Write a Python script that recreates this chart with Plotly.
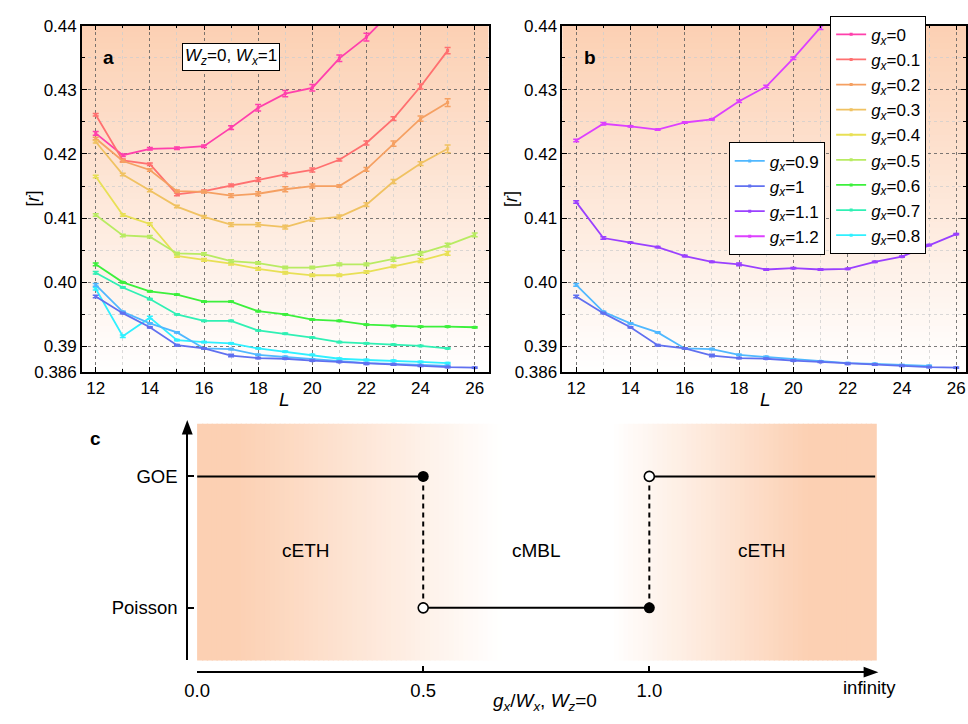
import plotly.graph_objects as go

W, H = 968, 724

# ---------------- data ----------------
L_all = list(range(12, 27))

g_labels_a = ["0", "0.1", "0.2", "0.3", "0.4", "0.5", "0.6", "0.7", "0.8"]
g_labels_b = ["0.9", "1", "1.1", "1.2"]

r_g00 = [0.4232, 0.4198, 0.4208, 0.4209, 0.4212, 0.4241, 0.4272, 0.4294, 0.4303, 0.4349, 0.4382, 0.4425]
r_g01 = [0.4261, 0.4190, 0.4184, 0.4137, 0.4142, 0.4151, 0.4160, 0.4168, 0.4175, 0.4191, 0.4217, 0.4255, 0.4305, 0.4361]
r_g02 = [0.4224, 0.4189, 0.4175, 0.4142, 0.4141, 0.4135, 0.4138, 0.4145, 0.4150, 0.4150, 0.4176, 0.4216, 0.4255, 0.4280]
r_g03 = [0.4219, 0.4168, 0.4143, 0.4118, 0.4102, 0.4090, 0.4090, 0.4086, 0.4098, 0.4102, 0.4121, 0.4157, 0.4185, 0.4208]
r_g04 = [0.4165, 0.4105, 0.4091, 0.4041, 0.4035, 0.4029, 0.4021, 0.4015, 0.4011, 0.4011, 0.4016, 0.4025, 0.4034, 0.4045]
r_g05 = [0.4105, 0.4073, 0.4071, 0.4045, 0.4044, 0.4033, 0.4030, 0.4023, 0.4023, 0.4028, 0.4028, 0.4036, 0.4045, 0.4058, 0.4074]
r_g06 = [0.4028, 0.4000, 0.3986, 0.3981, 0.3970, 0.3970, 0.3955, 0.3950, 0.3942, 0.3940, 0.3934, 0.3932, 0.3931, 0.3931, 0.3930]
r_g07 = [0.4015, 0.3992, 0.3974, 0.3950, 0.3940, 0.3940, 0.3925, 0.3920, 0.3914, 0.3907, 0.3905, 0.3903, 0.3901, 0.3897]
r_g08 = [0.3990, 0.3916, 0.3945, 0.3910, 0.3907, 0.3905, 0.3897, 0.3892, 0.3887, 0.3881, 0.3879, 0.3878, 0.3876, 0.3874]
r_g09 = [0.3996, 0.3954, 0.3936, 0.3922, 0.3897, 0.3896, 0.3887, 0.3884, 0.3880, 0.3877, 0.3874, 0.3873, 0.3871, 0.3870]
r_g10 = [0.3978, 0.3952, 0.3930, 0.3902, 0.3897, 0.3886, 0.3882, 0.3881, 0.3878, 0.3876, 0.3873, 0.3872, 0.3870, 0.3868, 0.3867]
r_g11 = [0.4125, 0.4069, 0.4062, 0.4055, 0.4041, 0.4032, 0.4028, 0.4020, 0.4022, 0.4020, 0.4021, 0.4032, 0.4040, 0.4058, 0.4075]
r_g12 = [0.4221, 0.4247, 0.4243, 0.4238, 0.4249, 0.4254, 0.4282, 0.4305, 0.4349, 0.4397, 0.4445]

e_g00 = [0.0003, 0.0002, 0.0002, 0.0002, 0.0002, 0.0003, 0.0005, 0.0005, 0.0005, 0.0005, 0.0006, 0.0006]
e_g01 = [0.0002, 0.0002, 0.0002, 0.0002, 0.0002, 0.0002, 0.0003, 0.0003, 0.0003, 0.0002, 0.0003, 0.0003, 0.0004, 0.0005]
e_g02 = [0.0002, 0.0002, 0.0002, 0.0002, 0.0002, 0.0003, 0.0003, 0.0004, 0.0003, 0.0002, 0.0003, 0.0004, 0.0004, 0.0006]
e_g03 = [0.0002, 0.0002, 0.0002, 0.0002, 0.0002, 0.0003, 0.0003, 0.0003, 0.0003, 0.0003, 0.0003, 0.0003, 0.0003, 0.0006]
e_g04 = [0.0002, 0.0002, 0.0002, 0.0002, 0.0002, 0.0002, 0.0002, 0.0002, 0.0002, 0.0002, 0.0002, 0.0002, 0.0003, 0.0003]
e_g05 = [0.0002, 0.0002, 0.0002, 0.0002, 0.0002, 0.0002, 0.0002, 0.0002, 0.0002, 0.0002, 0.0002, 0.0003, 0.0003, 0.0003, 0.0003]
e_g06 = [0.0002, 0.0001, 0.0001, 0.0001, 0.0001, 0.0001, 0.0001, 0.0001, 0.0001, 0.0001, 0.0001, 0.0001, 0.0001, 0.0001, 0.0001]
e_g07 = [0.0002, 0.0001, 0.0001, 0.0001, 0.0001, 0.0001, 0.0001, 0.0001, 0.0001, 0.0001, 0.0001, 0.0001, 0.0001, 0.0001]
e_g08 = [0.0002, 0.0002, 0.0002, 0.0001, 0.0001, 0.0001, 0.0001, 0.0001, 0.0001, 0.0001, 0.0001, 0.0001, 0.0001, 0.0001]
e_g09 = [0.0002, 0.0001, 0.0001, 0.0001, 0.0001, 0.0001, 0.0001, 0.0001, 0.0001, 0.0001, 0.0001, 0.0001, 0.0001, 0.0001]
e_g10 = [0.0002, 0.0001, 0.0001, 0.0001, 0.0001, 0.0002, 0.0001, 0.0001, 0.0001, 0.0001, 0.0001, 0.0001, 0.0001, 0.0001, 0.0001]
e_g11 = [0.0002, 0.0002, 0.0001, 0.0001, 0.0001, 0.0001, 0.0002, 0.0001, 0.0001, 0.0001, 0.0001, 0.0001, 0.0001, 0.0001, 0.0001]
e_g12 = [0.0002, 0.0002, 0.0001, 0.0001, 0.0001, 0.0001, 0.0002, 0.0002, 0.0002, 0.0003, 0.0003]

series_a = [r_g00, r_g01, r_g02, r_g03, r_g04, r_g05, r_g06, r_g07, r_g08]
errors_a = [e_g00, e_g01, e_g02, e_g03, e_g04, e_g05, e_g06, e_g07, e_g08]
series_b = [r_g09, r_g10, r_g11, r_g12]
errors_b = [e_g09, e_g10, e_g11, e_g12]

colors_a = ["#FF40AC", "#FF7070", "#F5A062", "#F0C262", "#E8E055", "#B8EB62", "#3CF03C", "#30F0B4", "#30F0FF"]
colors_b = ["#50B8FF", "#6070F0", "#9A40FF", "#DD40FF"]

y_ticks = [0.386, 0.39, 0.40, 0.41, 0.42, 0.43, 0.44]
y_ticktext = ["0.386", "0.39", "0.40", "0.41", "0.42", "0.43", "0.44"]
y_minor = [0.395, 0.405, 0.415, 0.425, 0.435]
x_ticks = [12, 14, 16, 18, 20, 22, 24, 26]
x_minor = [13, 15, 17, 19, 21, 23, 25]

# panel c
c_xticks = [0.0, 0.5, 1.0]
c_xticktext = ["0.0", "0.5", "1.0"]
c_levels = [0, 1]
c_leveltext = ["Poisson", "GOE"]
c_goe_left_x = [0.0, 0.5]
c_poisson_x = [0.5, 1.0]
c_goe_right_x = [1.0, 1.5]
c_phase_x = [0.24, 0.75, 1.25]
c_phase_names = ["cETH", "cMBL", "cETH"]
c_filled_x = [0.5, 1.0]
c_filled_y = [1, 0]
c_open_x = [0.5, 1.0]
c_open_y = [0, 1]

# ---------------- helpers ----------------
def px(x):
    return x / W


def py(y):
    return 1 - y / H


FONT = "Liberation Sans, Arial, sans-serif"
ORANGE = (252, 208, 179)


def mix(t):
    r = round(255 + (ORANGE[0] - 255) * t)
    g = round(255 + (ORANGE[1] - 255) * t)
    b = round(255 + (ORANGE[2] - 255) * t)
    return f"rgb({r},{g},{b})"


def gx(lbl):
    return f"<i>g</i><sub><i>x</i></sub>={lbl}"


fig = go.Figure()


def add_series(lbl, ys, es, col, xa, ya, legend=None, show=True):
    fig.add_trace(go.Scatter(
        x=L_all[:len(ys)], y=ys, mode="lines+markers", name=gx(lbl), showlegend=show,
        line=dict(color=col, width=1.8), marker=dict(symbol="square", size=3, color=col),
        error_y=dict(type="data", array=es, color=col, thickness=1.5, width=3),
        xaxis=xa, yaxis=ya, legend=legend or "legend"))


# panel a traces
for lbl, ys, es, col in zip(g_labels_a, series_a, errors_a, colors_a):
    add_series(lbl, ys, es, col, "x", "y", "legend")
for lbl, ys, es, col in zip(g_labels_b[:2], series_b[:2], errors_b[:2], colors_b[:2]):
    add_series(lbl, ys, es, col, "x", "y", show=False)
# panel b traces
for lbl, ys, es, col in zip(g_labels_b, series_b, errors_b, colors_b):
    add_series(lbl, ys, es, col, "x2", "y2", "legend2")

# panel c traces
for xs in (c_goe_left_x, c_goe_right_x):
    fig.add_trace(go.Scatter(x=xs, y=[c_levels[1]] * 2, mode="lines", showlegend=False,
                             line=dict(color="black", width=2), xaxis="x3", yaxis="y3"))
fig.add_trace(go.Scatter(x=c_poisson_x, y=[c_levels[0]] * 2, mode="lines", showlegend=False,
                         line=dict(color="black", width=2), xaxis="x3", yaxis="y3"))
for xv in c_filled_x:
    fig.add_trace(go.Scatter(x=[xv, xv], y=[c_levels[1], c_levels[0]], mode="lines", showlegend=False,
                             line=dict(color="black", width=2, dash="5px,4px"), xaxis="x3", yaxis="y3"))
fig.add_trace(go.Scatter(x=c_open_x, y=c_open_y, mode="markers", showlegend=False,
                         marker=dict(symbol="circle", size=10, color="white",
                                     line=dict(color="black", width=1.6)),
                         xaxis="x3", yaxis="y3"))
fig.add_trace(go.Scatter(x=c_filled_x, y=c_filled_y, mode="markers", showlegend=False,
                         marker=dict(symbol="circle", size=11, color="black"),
                         xaxis="x3", yaxis="y3"))

# ---------------- gradient backgrounds ----------------
shapes = []
N = 60
for ax in ("", "2"):
    for i in range(N):
        t = (i + 0.5) / N
        shapes.append(dict(type="rect", xref=f"x{ax} domain", yref=f"y{ax} domain",
                           x0=0, x1=1, y0=i / N, y1=(i + 1) / N + 0.002,
                           fillcolor=mix(t), line=dict(width=0), layer="below"))


def fc(f):
    pts = [(0.0, 1.0), (0.06, 1.0), (0.45, 0.0), (0.61, 0.0), (0.90, 1.0), (1.0, 1.0)]
    for (a0, v0), (a1, v1) in zip(pts[:-1], pts[1:]):
        if a0 <= f <= a1:
            return v0 + (v1 - v0) * (f - a0) / (a1 - a0)
    return 1.0


NC = 140
for i in range(NC):
    f = (i + 0.5) / NC
    shapes.append(dict(type="rect", xref="x3 domain", yref="y3 domain",
                       x0=i / NC, x1=(i + 1) / NC + 0.002, y0=0, y1=1,
                       fillcolor=mix(fc(f)), line=dict(width=0), layer="below"))

# arrowheads for panel c axes
shapes.append(dict(type="path", xref="paper", yref="paper",
                   path=f"M {px(177)} {py(422)} L {px(171.5)} {py(437)} L {px(182.5)} {py(437)} Z",
                   fillcolor="black", line=dict(width=0)))
shapes.append(dict(type="path", xref="paper", yref="paper",
                   path=f"M {px(879)} {py(681)} L {px(864)} {py(675.5)} L {px(864)} {py(686.5)} Z",
                   fillcolor="black", line=dict(width=0)))

# ---------------- axes ----------------
tickfont = dict(family=FONT, size=17, color="black")
tickfont_c = dict(family=FONT, size=18.5, color="black")


def xab(domain, rng):
    return dict(domain=domain, range=rng, tickvals=x_ticks, ticks="inside", ticklen=5,
                tickwidth=1, tickcolor="black", showline=True, linecolor="black", linewidth=1.5,
                mirror="ticks", showgrid=True, gridcolor="rgba(90,90,90,0.8)", griddash="dot",
                gridwidth=1, zeroline=False, tickfont=tickfont,
                minor=dict(tickvals=x_minor, ticks="inside", ticklen=3, tickcolor="black",
                           showgrid=True, gridcolor="rgba(205,205,205,0.75)", gridwidth=1))


def yab(rng, anchor):
    return dict(domain=[py(373), py(17)], range=rng, anchor=anchor, tickvals=y_ticks,
                ticktext=y_ticktext, ticks="inside", ticklen=5, tickwidth=1, tickcolor="black",
                showline=True, linecolor="black", linewidth=1.5, mirror="ticks", showgrid=True,
                gridcolor="rgba(90,90,90,0.8)", griddash="dot", gridwidth=1, zeroline=False,
                tickfont=tickfont,
                minor=dict(tickvals=y_minor, ticks="inside", ticklen=3, tickcolor="black",
                           showgrid=True, gridcolor="rgba(205,205,205,0.75)", gridwidth=1))


legend_common = dict(font=dict(family=FONT, size=17, color="black"), bgcolor="white",
                     bordercolor="black", borderwidth=1, xanchor="left", yanchor="top",
                     tracegroupgap=0, itemwidth=30)


def note(text, x, y, size=17, **kw):
    d = dict(text=text, x=px(x), y=py(y), xref="paper", yref="paper", showarrow=False,
             xanchor="center", yanchor="middle", font=dict(family=FONT, size=size, color="black"))
    d.update(kw)
    return d


ann = [
    note("<b>a</b>", 97, 50, 19),
    note("<b>b</b>", 586, 50, 19),
    note("<b>c</b>", 84, 441, 19),
    note("<i>W</i><sub><i>z</i></sub>=0, <i>W</i><sub><i>x</i></sub>=1", 221, 49.5, 17,
         bgcolor="white", bordercolor="black", borderwidth=1, borderpad=2),
    note("[<i>r</i>]", 20, 195, 18, textangle=-90),
    note("[<i>r</i>]", 506, 195, 18, textangle=-90),
    note("<i>L</i>", 276, 401, 19),
    note("<i>L</i>", 764, 401, 19),
    note("infinity", 870, 697, 18.5),
    note("<i>g</i><sub><i>x</i></sub>/<i>W</i><sub><i>x</i></sub>, <i>W</i><sub><i>z</i></sub>=0",
         540, 712, 19),
]
for xv, name in zip(c_phase_x, c_phase_names):
    ann.append(dict(text=name, x=xv, y=0.44, xref="x3", yref="y3", showarrow=False,
                    xanchor="center", yanchor="middle",
                    font=dict(family=FONT, size=19, color="black")))

fig.update_layout(
    width=W, height=H, margin=dict(l=0, r=0, t=0, b=0),
    paper_bgcolor="white", plot_bgcolor="rgba(0,0,0,0)",
    font=dict(family=FONT, size=17, color="black"),
    xaxis=xab([px(70), px(483)], [11.49, 26.51]),
    yaxis=yab([0.386, 0.44], "x"),
    xaxis2=xab([px(558), 1.0], [11.49, 26.36]),
    yaxis2=yab([0.386, 0.44], "x2"),
    xaxis3=dict(domain=[px(187), px(876)], range=[0, 1.5], anchor="free", position=py(681),
                tickvals=c_xticks, ticktext=c_xticktext, ticks="inside", ticklen=5, tickwidth=2,
                tickcolor="black", showline=True, linecolor="black", linewidth=2,
                showgrid=False, zeroline=False, tickfont=tickfont_c, ticklabelstandoff=2),
    yaxis3=dict(domain=[py(669), py(426)], range=[-0.4, 1.4], anchor="free", position=px(177),
                tickvals=c_levels, ticktext=c_leveltext, ticks="inside", ticklen=6, tickwidth=2,
                tickcolor="black", showline=True, linecolor="black", linewidth=2,
                showgrid=False, zeroline=False, tickfont=tickfont_c, ticklabelstandoff=5),
    legend=dict(x=px(830), y=py(7), **legend_common),
    legend2=dict(x=px(727), y=py(137), **legend_common),
    shapes=shapes,
    annotations=ann,
)

fig.write_html("out.html")
